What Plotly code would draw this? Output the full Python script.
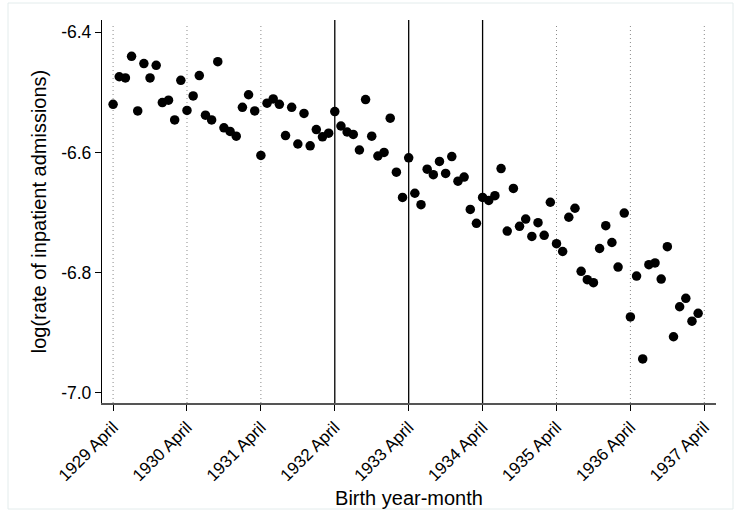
import plotly.graph_objects as go

# Birth months: index 0 = 1929 April ... 95 = 1937 March
month_index = list(range(96))

log_rate = [
    -6.520, -6.474, -6.476, -6.440, -6.531, -6.452, -6.476, -6.455, -6.517, -6.513, -6.546, -6.480,
    -6.530, -6.506, -6.472, -6.538, -6.546, -6.449, -6.559, -6.565, -6.573, -6.525, -6.504, -6.531,
    -6.605, -6.518, -6.511, -6.520, -6.572, -6.525, -6.586, -6.535, -6.589, -6.562, -6.574, -6.568,
    -6.532, -6.556, -6.566, -6.570, -6.596, -6.512, -6.573, -6.606, -6.600, -6.543, -6.633, -6.675,
    -6.609, -6.668, -6.687, -6.628, -6.637, -6.615, -6.635, -6.607, -6.648, -6.641, -6.695, -6.718,
    -6.675, -6.680, -6.672, -6.627, -6.731, -6.660, -6.723, -6.711, -6.740, -6.717, -6.738, -6.683,
    -6.752, -6.765, -6.708, -6.693, -6.798, -6.812, -6.817, -6.760, -6.722, -6.750, -6.791, -6.701,
    -6.874, -6.806, -6.944, -6.787, -6.784, -6.811, -6.757, -6.907, -6.857, -6.843, -6.881, -6.868,
]

tick_positions = [0, 12, 24, 36, 48, 60, 72, 84, 96]
tick_labels = ["1929 April", "1930 April", "1931 April", "1932 April", "1933 April",
               "1934 April", "1935 April", "1936 April", "1937 April"]
solid_ticks = [36, 48, 60]

y_ticks = [-6.4, -6.6, -6.8, -7.0]
y_tick_labels = ["-6.4", "-6.6", "-6.8", "-7.0"]

W, H = 741, 512
ML, MR, MT, MB = 102, 25, 20, 109

fig = go.Figure()
fig.add_trace(go.Scatter(
    x=month_index, y=log_rate, mode="markers",
    marker=dict(size=9.5, color="black", line=dict(width=0)),
    showlegend=False, hoverinfo="x+y",
))

shapes = []
for t in tick_positions:
    if t in solid_ticks:
        shapes.append(dict(type="line", xref="x", yref="paper", x0=t, x1=t, y0=0, y1=1,
                           line=dict(color="black", width=1.3), layer="below"))
    else:
        shapes.append(dict(type="line", xref="x", yref="paper", x0=t, x1=t, y0=0, y1=0.99,
                           line=dict(color="#8a8a8a", width=1, dash="1px,3px"), layer="below"))

# light outer frame
pw = W - ML - MR
ph = H - MT - MB
def px2paper_x(px):
    return (px - ML) / pw
def px2paper_y(py):
    return 1 - (py - MT) / ph
shapes.append(dict(type="rect", xref="paper", yref="paper",
                   x0=px2paper_x(8), x1=px2paper_x(733), y0=px2paper_y(509), y1=px2paper_y(3),
                   line=dict(color="#e3ecec", width=1), fillcolor="rgba(0,0,0,0)", layer="below"))

fig.update_layout(
    width=W, height=H,
    margin=dict(l=ML, r=MR, t=MT, b=MB, autoexpand=False),
    paper_bgcolor="white", plot_bgcolor="white",
    font=dict(family="Liberation Sans, Arial, sans-serif", color="black", size=16),
    shapes=shapes,
    xaxis=dict(
        range=[-1.8, 97.9], tickmode="array", tickvals=tick_positions, ticktext=tick_labels,
        tickangle=-45, ticks="outside", ticklen=6, tickcolor="black", tickwidth=1,
        showline=True, linecolor="#555555", linewidth=1.5, showgrid=False, zeroline=False,
        tickfont=dict(size=17),
        title=dict(text="Birth year-month", font=dict(size=20), standoff=7),
    ),
    yaxis=dict(
        range=[-7.0173, -6.3795], tickmode="array", tickvals=y_ticks, ticktext=y_tick_labels,
        ticks="outside", ticklen=6, tickcolor="black", tickwidth=1,
        showline=True, linecolor="black", linewidth=1.3, showgrid=False, zeroline=False,
        tickfont=dict(size=17.5),
        title=dict(text="log(rate of inpatient admissions)", font=dict(size=20), standoff=9),
    ),
)

fig.write_html("out.html")
